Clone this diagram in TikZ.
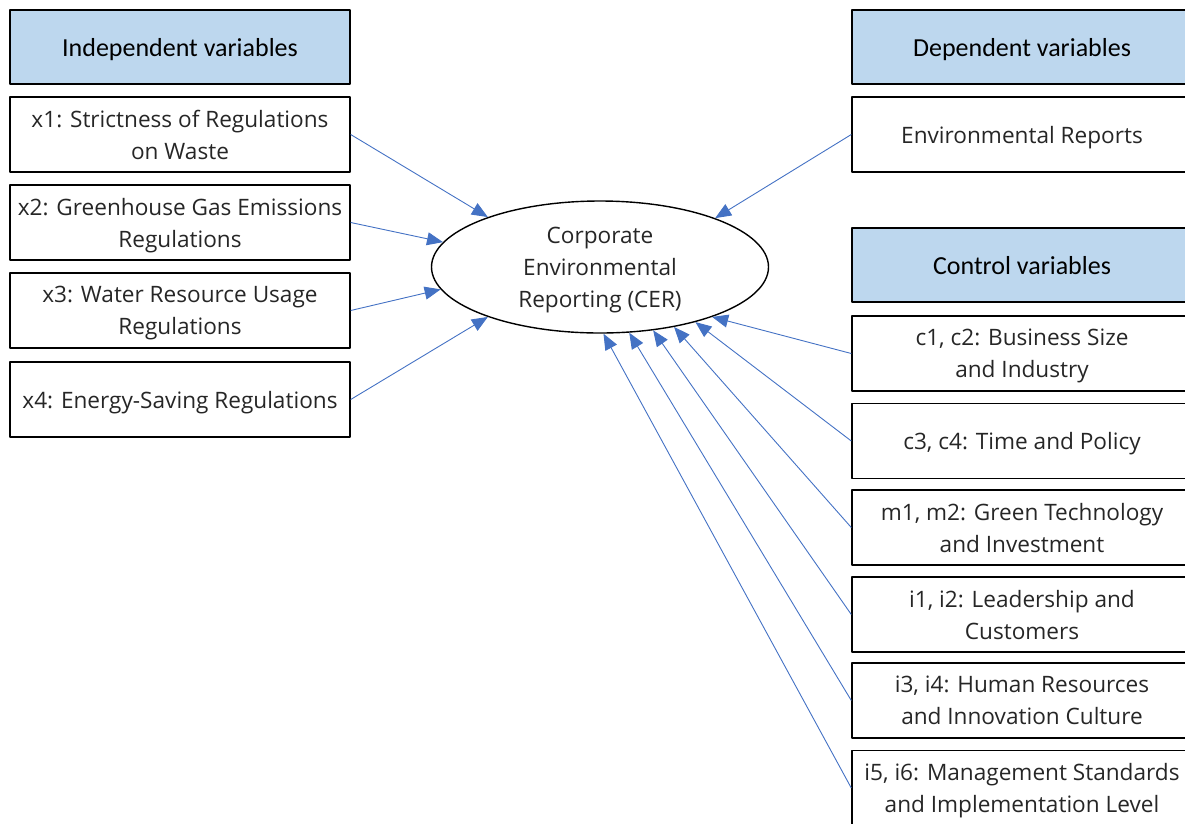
\documentclass[tikz,border=0pt]{standalone}
\usepackage{fontspec}
\setmainfont{Open Sans}
\newfontfamily\hdrfont{Carlito}
\usetikzlibrary{shapes.geometric,arrows.meta}
\definecolor{hdrblue}{HTML}{BDD7EE}
\definecolor{arrblue}{HTML}{4472C4}
\begin{document}
\begin{tikzpicture}[x=1pt,y=-1pt,>={Triangle[length=16pt,width=13pt]}, line join=round,
    headbox/.style={draw, line width=1.4pt, fill=hdrblue, minimum width=340pt, minimum height=74pt, inner sep=0pt, text depth=0pt, font=\hdrfont\fontsize{26}{30}\selectfont},
    varbox/.style={draw, line width=1.4pt, minimum width=340pt, minimum height=75pt, inner sep=0pt, text depth=0pt, align=center, text=black!85, font=\fontsize{22.6}{32}\selectfont},
    arr/.style={->, arrblue, line width=0.9pt}]
    \useasboundingbox (0,0) rectangle (1185,823);
    \def\xl{180} \def\xr{1022} % column centres
    % left column
    \node[headbox] (indep) at (\xl,47) {Independent variables};
    \node[varbox] (x1) at (\xl,134.5) {x1: Strictness of Regulations\\on Waste};
    \node[varbox] (x2) at (\xl,222.5) {x2: Greenhouse Gas Emissions\\Regulations};
    \node[varbox] (x3) at (\xl,310.5) {x3: Water Resource Usage\\Regulations};
    \node[varbox] (x4) at (\xl,399.5) {x4: Energy-Saving Regulations};
    % right column
    \node[headbox] (dep) at (\xr,47) {Dependent variables};
    \node[varbox] (env) at (\xr,134.5) {Environmental Reports};
    \node[headbox] (ctrl) at (\xr,265) {Control variables};
    \node[varbox] (c1) at (\xr,353.5) {c1, c2: Business Size\\and Industry};
    \node[varbox] (c3) at (\xr,441) {c3, c4: Time and Policy};
    \node[varbox] (m1) at (\xr,527.5) {m1, m2: Green Technology\\and Investment};
    \node[varbox] (i1) at (\xr,614.5) {i1, i2: Leadership and\\Customers};
    \node[varbox] (i3) at (\xr,700.5) {i3, i4: Human Resources\\and Innovation Culture};
    \node[varbox] (i5) at (\xr,788) {i5, i6: Management Standards\\and Implementation Level};
    % centre
    \node[draw, ellipse, line width=1.4pt, minimum width=337pt, minimum height=132pt, inner sep=0pt, text depth=0pt, align=center, text=black!85, font=\fontsize{22.6}{32}\selectfont] (cer) at (600,267) {Corporate\\Environmental\\Reporting (CER)};
    \draw[arr] (x1.east) -- (cer.156);
    \draw[arr] (x2.east) -- (cer.171);
    \draw[arr] (x3.east) -- (cer.188);
    \draw[arr] (x4.east) -- (cer.204);
    \draw[arr] (env.west) -- (cer.23.5);
    \foreach \n/\a in {c1/336.5,c3/330,m1/321.5,i1/310,i3/294,i5/273}
        \draw[arr] (\n.west) -- (cer.\a);
\end{tikzpicture}
\end{document}
